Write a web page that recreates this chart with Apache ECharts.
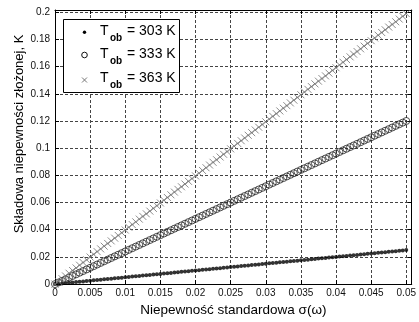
<!DOCTYPE html>
<html>
<head>
<meta charset="utf-8">
<script src="https://cdn.jsdelivr.net/npm/echarts@6/dist/echarts.min.js"></script>
<style>
  html, body { margin: 0; padding: 0; background: #fff; }
  #chart { width: 419px; height: 322px; }
</style>
</head>
<body>
<div id="chart"></div>
<script>
// Standard uncertainty sigma(omega) for every sample
const sigma = [
  0, 0.0005, 0.001, 0.0015, 0.002, 0.0025, 0.003, 0.0035, 0.004, 0.0045,
  0.005, 0.0055, 0.006, 0.0065, 0.007, 0.0075, 0.008, 0.0085, 0.009, 0.0095,
  0.01, 0.0105, 0.011, 0.0115, 0.012, 0.0125, 0.013, 0.0135, 0.014, 0.0145,
  0.015, 0.0155, 0.016, 0.0165, 0.017, 0.0175, 0.018, 0.0185, 0.019, 0.0195,
  0.02, 0.0205, 0.021, 0.0215, 0.022, 0.0225, 0.023, 0.0235, 0.024, 0.0245,
  0.025, 0.0255, 0.026, 0.0265, 0.027, 0.0275, 0.028, 0.0285, 0.029, 0.0295,
  0.03, 0.0305, 0.031, 0.0315, 0.032, 0.0325, 0.033, 0.0335, 0.034, 0.0345,
  0.035, 0.0355, 0.036, 0.0365, 0.037, 0.0375, 0.038, 0.0385, 0.039, 0.0395,
  0.04, 0.0405, 0.041, 0.0415, 0.042, 0.0425, 0.043, 0.0435, 0.044, 0.0445,
  0.045, 0.0455, 0.046, 0.0465, 0.047, 0.0475, 0.048, 0.0485, 0.049, 0.0495,
  0.05
];

// Component of the combined uncertainty, K — T_ob = 303 K
const u303 = [
  0, 0.00025, 0.0005, 0.00075, 0.001, 0.00125, 0.0015, 0.00175, 0.002, 0.00225,
  0.0025, 0.00275, 0.003, 0.00325, 0.0035, 0.00375, 0.004, 0.00425, 0.0045, 0.00475,
  0.005, 0.00525, 0.0055, 0.00575, 0.006, 0.00625, 0.0065, 0.00675, 0.007, 0.00725,
  0.0075, 0.00775, 0.008, 0.00825, 0.0085, 0.00875, 0.009, 0.00925, 0.0095, 0.00975,
  0.01, 0.01025, 0.0105, 0.01075, 0.011, 0.01125, 0.0115, 0.01175, 0.012, 0.01225,
  0.0125, 0.01275, 0.013, 0.01325, 0.0135, 0.01375, 0.014, 0.01425, 0.0145, 0.01475,
  0.015, 0.01525, 0.0155, 0.01575, 0.016, 0.01625, 0.0165, 0.01675, 0.017, 0.01725,
  0.0175, 0.01775, 0.018, 0.01825, 0.0185, 0.01875, 0.019, 0.01925, 0.0195, 0.01975,
  0.02, 0.02025, 0.0205, 0.02075, 0.021, 0.02125, 0.0215, 0.02175, 0.022, 0.02225,
  0.0225, 0.02275, 0.023, 0.02325, 0.0235, 0.02375, 0.024, 0.02425, 0.0245, 0.02475,
  0.025
];

// T_ob = 333 K
const u333 = [
  0, 0.0012, 0.0024, 0.0036, 0.0048, 0.0060, 0.0072, 0.0084, 0.0096, 0.0108,
  0.0120, 0.0132, 0.0144, 0.0156, 0.0168, 0.0180, 0.0192, 0.0204, 0.0216, 0.0228,
  0.0240, 0.0252, 0.0264, 0.0276, 0.0288, 0.0300, 0.0312, 0.0324, 0.0336, 0.0348,
  0.0360, 0.0372, 0.0384, 0.0396, 0.0408, 0.0420, 0.0432, 0.0444, 0.0456, 0.0468,
  0.0480, 0.0492, 0.0504, 0.0516, 0.0528, 0.0540, 0.0552, 0.0564, 0.0576, 0.0588,
  0.0600, 0.0612, 0.0624, 0.0636, 0.0648, 0.0660, 0.0672, 0.0684, 0.0696, 0.0708,
  0.0720, 0.0732, 0.0744, 0.0756, 0.0768, 0.0780, 0.0792, 0.0804, 0.0816, 0.0828,
  0.0840, 0.0852, 0.0864, 0.0876, 0.0888, 0.0900, 0.0912, 0.0924, 0.0936, 0.0948,
  0.0960, 0.0972, 0.0984, 0.0996, 0.1008, 0.1020, 0.1032, 0.1044, 0.1056, 0.1068,
  0.1080, 0.1092, 0.1104, 0.1116, 0.1128, 0.1140, 0.1152, 0.1164, 0.1176, 0.1188,
  0.1200
];

// T_ob = 363 K
const u363 = [
  0, 0.0020, 0.0040, 0.0060, 0.0080, 0.0100, 0.0119, 0.0139, 0.0159, 0.0179,
  0.0199, 0.0219, 0.0239, 0.0259, 0.0279, 0.0299, 0.0318, 0.0338, 0.0358, 0.0378,
  0.0398, 0.0418, 0.0438, 0.0458, 0.0478, 0.0498, 0.0517, 0.0537, 0.0557, 0.0577,
  0.0597, 0.0617, 0.0637, 0.0657, 0.0677, 0.0697, 0.0716, 0.0736, 0.0756, 0.0776,
  0.0796, 0.0816, 0.0836, 0.0856, 0.0876, 0.0896, 0.0915, 0.0935, 0.0955, 0.0975,
  0.0995, 0.1015, 0.1035, 0.1055, 0.1075, 0.1095, 0.1114, 0.1134, 0.1154, 0.1174,
  0.1194, 0.1214, 0.1234, 0.1254, 0.1274, 0.1294, 0.1313, 0.1333, 0.1353, 0.1373,
  0.1393, 0.1413, 0.1433, 0.1453, 0.1473, 0.1493, 0.1512, 0.1532, 0.1552, 0.1572,
  0.1592, 0.1612, 0.1632, 0.1652, 0.1672, 0.1692, 0.1711, 0.1731, 0.1751, 0.1771,
  0.1791, 0.1811, 0.1831, 0.1851, 0.1871, 0.1891, 0.1910, 0.1930, 0.1950, 0.1970,
  0.1990
];

const seriesNames = ['303', '333', '363'];
const xTitle = 'Niepewność standardowa σ(ω)';
const yTitle = 'Składowa niepewności złożonej, K';

const FONT = '"Liberation Sans", Arial, sans-serif';
const pairs = ys => sigma.map((x, i) => [x, ys[i]]);

// axis box runs a little past the last tick on the right and at the top
const X_MAX = 0.05078;
const Y_MAX = 0.20166;

const fmtX = v => (v > 0.0501 ? '' : String(+v.toFixed(3)));
const fmtY = v => (v > 0.2001 ? '' : String(+v.toFixed(2)));

const gridLine = { show: true, lineStyle: { color: '#444', width: 1, type: [3, 2] } };
const axisLine = { show: true, onZero: false, lineStyle: { color: '#000', width: 1 } };
const inTick = { show: true, inside: true, length: 4, lineStyle: { color: '#000' } };
const tickLabel = { color: '#111', fontSize: 10, fontFamily: FONT };

const crossPath = 'path://M0,0L10,10M10,0L0,10';

const chart = echarts.init(document.getElementById('chart'), null, { renderer: 'canvas' });

// hand-drawn legend box and rotated y title
function buildGraphics() {
  const els = [{
    type: 'rect', shape: { x: 63.5, y: 19.5, width: 116, height: 73 },
    style: { fill: '#fff', stroke: '#000', lineWidth: 1 }, z: 100
  }];
  const rows = [31, 54.5, 78.5];
  rows.forEach((cy, i) => {
    if (i === 0) {
      els.push({ type: 'circle', shape: { cx: 84.5, cy: cy + 1.3, r: 1.7 }, style: { fill: '#000' }, z: 101 });
    } else if (i === 1) {
      els.push({ type: 'circle', shape: { cx: 84.5, cy: cy + 0.5, r: 2.8 }, style: { fill: 'none', stroke: '#111', lineWidth: 1 }, z: 101 });
    } else {
      els.push({
        type: 'polyline', shape: { points: [[82, cy - 1], [87, cy + 4]] },
        style: { stroke: '#777', lineWidth: 1 }, z: 101
      });
      els.push({
        type: 'polyline', shape: { points: [[87, cy - 1], [82, cy + 4]] },
        style: { stroke: '#777', lineWidth: 1 }, z: 101
      });
    }
    els.push({
      type: 'text', x: 100, y: cy, z: 101,
      style: { text: 'T', fontSize: 14, fontFamily: FONT, fill: '#000', verticalAlign: 'middle' }
    });
    els.push({
      type: 'text', x: 110, y: cy + 7, z: 101,
      style: { text: 'ob', fontSize: 10, fontWeight: 'bold', fontFamily: FONT, fill: '#000', verticalAlign: 'middle' }
    });
    els.push({
      type: 'text', x: 127, y: cy, z: 101,
      style: { text: '= ' + seriesNames[i] + ' K', fontSize: 14, fontFamily: FONT, fill: '#000', verticalAlign: 'middle' }
    });
  });
  els.push({
    type: 'text', x: 19, y: 134, rotation: Math.PI / 2, z: 50,
    style: { text: yTitle, fontSize: 13, fontFamily: FONT, fill: '#000', align: 'center', verticalAlign: 'middle' }
  });
  return els;
}

chart.setOption({
  animation: false,
  backgroundColor: '#fff',
  grid: { left: 55, right: 6.5, top: 10, bottom: 32, containLabel: false },
  xAxis: [
    {
      type: 'value', min: 0, max: X_MAX, interval: 0.005, position: 'bottom',
      axisLine, axisTick: inTick, splitLine: gridLine,
      axisLabel: Object.assign({ margin: 4, formatter: fmtX, showMaxLabel: false }, tickLabel),
      name: xTitle, nameLocation: 'middle', nameGap: 15,
      nameTextStyle: { color: '#000', fontSize: 13.5, fontFamily: FONT }
    },
    {
      type: 'value', min: 0, max: X_MAX, interval: 0.005, position: 'top',
      axisLine, axisTick: inTick, splitLine: { show: false }, axisLabel: { show: false }
    }
  ],
  yAxis: [
    {
      type: 'value', min: 0, max: Y_MAX, interval: 0.02, position: 'left',
      axisLine, axisTick: inTick, splitLine: gridLine,
      axisLabel: Object.assign({ margin: 5, formatter: fmtY, showMaxLabel: false }, tickLabel)
    },
    {
      type: 'value', min: 0, max: Y_MAX, interval: 0.02, position: 'right',
      axisLine, axisTick: inTick, splitLine: { show: false }, axisLabel: { show: false }
    }
  ],
  series: [
    {
      name: seriesNames[0], type: 'scatter', data: pairs(u303),
      symbol: 'circle', symbolSize: 4,
      itemStyle: { color: '#000' }, silent: true, z: 3
    },
    {
      name: seriesNames[1], type: 'scatter', data: pairs(u333),
      symbol: 'circle', symbolSize: 7,
      itemStyle: { color: 'rgba(0,0,0,0)', borderColor: '#222', borderWidth: 1 }, silent: true, z: 3
    },
    {
      name: seriesNames[2], type: 'scatter', data: pairs(u363),
      symbol: crossPath, symbolSize: 7,
      itemStyle: { color: 'rgba(0,0,0,0)', borderColor: '#707070', borderWidth: 1 }, silent: true, z: 3
    }
  ],
  graphic: buildGraphics()
});
</script>
</body>
</html>
